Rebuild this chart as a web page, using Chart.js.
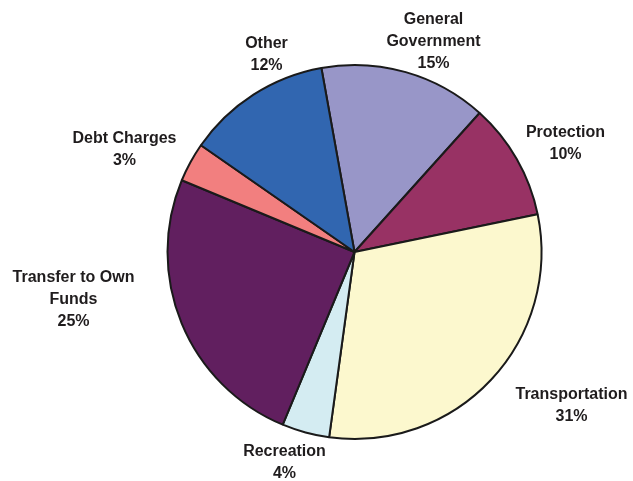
<!DOCTYPE html>
<html>
<head>
<meta charset="utf-8">
<script src="https://cdn.jsdelivr.net/npm/chart.js@4"></script>
<style>
  html, body { margin: 0; padding: 0; background: #ffffff; }
  #chart-container { width: 633px; height: 481px; position: relative; }
</style>
</head>
<body>
<div id="chart-container"><canvas id="myChart"></canvas></div>
<script>
//--------------------- Data

//Slice names, split into the lines they are printed on
var categories = [["General", "Government"], ["Protection"], ["Transportation"], ["Recreation"],
    ["Transfer to Own", "Funds"], ["Debt Charges"], ["Other"]]

//Share of spending per slice
var shares = [14.5, 10.1, 30.4, 4.1, 25.0, 3.4, 12.5]

//Percent text printed under each name
var percentLabels = ["15%", "10%", "31%", "4%", "25%", "3%", "12%"]

//--------------------- Styles

var sliceColors = ["#9896c8", "#983264", "#fcf8ce", "#d4ecf2", "#611f5f", "#f27f7f", "#3166b0"]

//Where each label block sits, measured from the pie centre in pixels
var labelOffsets = [[79, -210], [211, -108], [217, 154], [-70, 211], [-281, 48], [-230, -102], [-88, -197]]

//--------------------- Label plugin

//Draws the name and percent beside each slice
var outsideLabels = {
    id: "outsideLabels",
    afterDraw: function (chart) {
        var ctx = chart.ctx
        var arc = chart.getDatasetMeta(0).data[0]
        var cx = arc.x, cy = arc.y
        var lineHeight = 22

        ctx.save()
        ctx.font = "bold 16px 'Liberation Sans', Arial, sans-serif"
        ctx.fillStyle = "#1f1c1d"
        ctx.textAlign = "center"
        ctx.textBaseline = "middle"

        for (var i = 0; i < categories.length; i++)
        {
            var lines = categories[i].concat([percentLabels[i]])
            var bx = cx + labelOffsets[i][0]
            var by = cy + labelOffsets[i][1] - (lines.length - 1) * lineHeight / 2
            for (var j = 0; j < lines.length; j++)
            {
                ctx.fillText(lines[j], bx, by + j * lineHeight)
            }
        }
        ctx.restore()
    }
}

//--------------------- Chart

const ctx = document.getElementById("myChart")
const myChart = new Chart(ctx, {
    type: "pie",
    data: {
        labels: categories,
        datasets: [{
            data: shares,
            backgroundColor: sliceColors,
            borderColor: "#1a1a1a",
            borderWidth: 2
        }]
    },
    options: {
        animation: false,
        responsive: true,
        maintainAspectRatio: false,
        rotation: -10.2,
        layout: {
            padding: { left: 166, right: 90, top: 64, bottom: 41 }
        },
        plugins: {
            legend: { display: false },
            tooltip: { enabled: false }
        }
    },
    plugins: [outsideLabels]
})
</script>
</body>
</html>
